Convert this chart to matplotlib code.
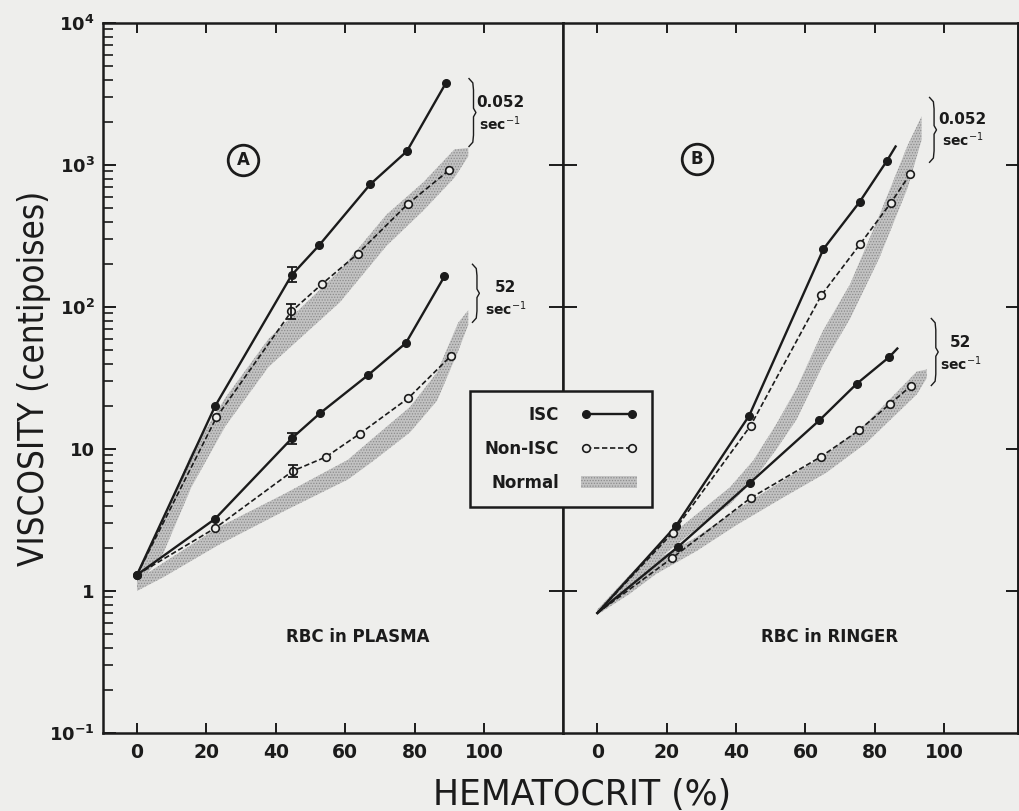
import numpy as np
import matplotlib
matplotlib.use("Agg")
import matplotlib.pyplot as plt
from matplotlib.lines import Line2D
from matplotlib.patches import Patch
from matplotlib.ticker import FixedLocator, NullFormatter, NullLocator

# ---------------- data ----------------
# Panel A : RBC in plasma
pl_isc_hi_x = [0, 22.5, 44.6, 52.5, 67.2, 77.8, 89.1]
pl_isc_hi_y = [1.3, 20, 168, 272, 730, 1250, 3800]
pl_non_hi_x = [0, 22.9, 44.5, 53.3, 63.7, 78.0, 90.0]
pl_non_hi_y = [1.3, 16.7, 93, 145, 238, 530, 920]
pl_isc_lo_x = [0, 22.5, 44.8, 52.8, 66.5, 77.5, 88.6]
pl_isc_lo_y = [1.3, 3.22, 12, 17.9, 33, 55.7, 164]
pl_non_lo_x = [0, 22.6, 44.9, 54.5, 64.2, 78.2, 90.4]
pl_non_lo_y = [1.3, 2.78, 7.0, 8.8, 12.8, 22.8, 45]

# error bars (x, low, high)
pl_err_x = [44.6, 44.5, 44.8, 44.9]
pl_err_lo = [150, 82, 10.8, 6.3]
pl_err_hi = [192, 105, 13.0, 7.7]

# normal bands, panel A
pl_band_hi_x = [0, 7.6, 15.7, 25.5, 37.9, 58.5, 71.9, 82.6, 91.5, 95.5]
pl_band_hi_lo = [1.07, 1.85, 5.4, 14.5, 37.8, 108, 269, 479, 813, 1150]
pl_band_hi_up = [1.35, 3.2, 9.4, 23, 59.6, 181, 447, 759, 1288, 1320]
pl_band_lo_x = [0, 7.6, 23.5, 42.2, 60.8, 68, 78.7, 86.5, 92.6, 95.5]
pl_band_lo_lo = [1.0, 1.25, 2.11, 3.63, 6.1, 8.2, 13.1, 21.9, 49, 75]
pl_band_lo_up = [1.2, 1.58, 2.81, 4.79, 8.4, 11.9, 19.8, 34.7, 77.6, 95]

# Panel B : RBC in Ringer
ri_isc_hi_x = [0, 22.6, 43.8, 65.2, 75.6, 83.5, 86.0]
ri_isc_hi_y = [0.7, 2.86, 17.2, 256, 548, 1070, 1350]
ri_non_hi_x = [0, 21.7, 44.2, 64.6, 75.8, 84.6, 90.3]
ri_non_hi_y = [0.7, 2.57, 14.6, 121, 278, 540, 870]
ri_isc_lo_x = [0, 23.3, 44.1, 64.0, 74.8, 84.2, 86.5]
ri_isc_lo_y = [0.7, 2.05, 5.8, 15.9, 28.8, 44.5, 51]
ri_non_lo_x = [0, 21.6, 44.2, 64.4, 75.4, 84.5, 90.5]
ri_non_lo_y = [0.7, 1.71, 4.52, 8.8, 13.5, 20.9, 27.9]

ri_band_hi_x = [0, 9.2, 19, 28.6, 38.2, 45, 51.7, 57.5, 65, 72.9, 81.4, 89.5, 93.5]
ri_band_hi_lo = [0.68, 1.07, 1.78, 2.75, 4.07, 6.03, 10.0, 16.2, 38.9, 83, 224, 692, 1500]
ri_band_hi_up = [0.74, 1.29, 2.24, 3.47, 5.37, 8.32, 15.1, 26.9, 67.6, 145, 447, 1380, 2200]
ri_band_lo_x = [0, 9.2, 17, 28.6, 40.2, 53.7, 66, 77.5, 92.1, 95]
ri_band_lo_lo = [0.68, 0.95, 1.32, 1.91, 2.92, 4.57, 6.8, 11.0, 24.2, 31.6]
ri_band_lo_up = [0.74, 1.20, 1.66, 2.40, 3.75, 6.03, 9.2, 15.1, 35.1, 36.3]

x_ticks = [0, 20, 40, 60, 80, 100]
y_ticks = [0.1, 1, 10, 100, 1000, 10000]
y_tick_labels = ["$\\mathbf{10^{-1}}$", "1", "10", "$\\mathbf{10^{2}}$",
                 "$\\mathbf{10^{3}}$", "$\\mathbf{10^{4}}$"]
divider_ticks = [1, 10, 100, 1000]
legend_labels = ["ISC", "Non-ISC", "Normal"]

# ---------------- style ----------------
BG = "#eeeeec"
INK = "#1b1b1b"
BAND = "#c2c2c2"
plt.rcParams["font.family"] = ["DejaVu Sans"]
plt.rcParams["hatch.linewidth"] = 0.6

W, H = 1019, 811
fig = plt.figure(figsize=(W / 100, H / 100), dpi=100, facecolor=BG)
axL = fig.add_axes([103 / W, 78 / H, 460 / W, 710 / H])
axR = fig.add_axes([563 / W, 78 / H, 455 / W, 710 / H])

for ax in (axL, axR):
    ax.set_facecolor(BG)
    ax.set_yscale("log")
    ax.set_ylim(0.1, 1e4)
    for s in ax.spines.values():
        s.set_linewidth(1.8)
        s.set_color(INK)
    ax.xaxis.set_major_locator(FixedLocator(x_ticks))
    ax.tick_params(axis="x", which="major", direction="in", top=True, bottom=True,
                   length=7, width=1.4, color=INK, labelsize=13.5, pad=7,
                   labelcolor=INK)
    ax.set_xticklabels([str(t) for t in x_ticks], fontweight="bold")

axL.set_xlim(-9.8, 122.8)
axR.set_xlim(-9.9, 121.3)

# y axis, left panel
axL.yaxis.set_major_locator(FixedLocator(y_ticks))
axL.yaxis.set_minor_locator(FixedLocator(
    [m * 10.0 ** e for e in range(-1, 4) for m in range(2, 10)]))
axL.yaxis.set_minor_formatter(NullFormatter())
axL.set_yticklabels(y_tick_labels, fontweight="bold")
axL.tick_params(axis="y", which="major", direction="in", left=True, right=False,
                length=9, width=1.4, color=INK, labelsize=13, pad=6, labelcolor=INK)
axL.tick_params(axis="y", which="minor", direction="in", left=True, right=False,
                length=7, width=1.2, color=INK)

# y axis, right panel: crossing ticks on the divider, inward ticks on the right
axR.yaxis.set_major_locator(FixedLocator(divider_ticks))
axR.yaxis.set_minor_locator(NullLocator())
axR.tick_params(axis="y", which="major", direction="inout", left=True, right=False,
                length=20, width=1.4, color=INK, labelleft=False)
sec = axR.secondary_yaxis("right")
sec.yaxis.set_major_locator(FixedLocator(divider_ticks))
sec.yaxis.set_minor_locator(NullLocator())
sec.tick_params(axis="y", direction="in", length=9, width=1.4, color=INK,
                labelright=False)
sec.spines["right"].set_linewidth(1.8)


def band(ax, x, lo, up):
    ax.fill_between(x, lo, up, facecolor=BAND, edgecolor="#8c8c8c", hatch="......",
                    linewidth=0, zorder=1)


def isc(ax, x, y, marks):
    ax.plot(x, y, "-", color=INK, lw=1.7, zorder=3, marker="o", ms=5.5,
            mfc=INK, mec=INK, markevery=marks)


def non(ax, x, y, marks):
    ax.plot(x, y, color=INK, lw=1.2, ls=(0, (3.2, 1.6)), zorder=4, marker="o",
            ms=5.5, mfc=BG, mec=INK, mew=1.2, markevery=marks)


band(axL, pl_band_hi_x, pl_band_hi_lo, pl_band_hi_up)
band(axL, pl_band_lo_x, pl_band_lo_lo, pl_band_lo_up)
non(axL, pl_non_hi_x, pl_non_hi_y, list(range(1, 7)))
non(axL, pl_non_lo_x, pl_non_lo_y, list(range(1, 7)))
isc(axL, pl_isc_hi_x, pl_isc_hi_y, list(range(0, 7)))
isc(axL, pl_isc_lo_x, pl_isc_lo_y, list(range(0, 7)))
ey = np.array([pl_err_lo, pl_err_hi])
mid = np.sqrt(ey[0] * ey[1])
axL.errorbar(pl_err_x, mid, yerr=[mid - ey[0], ey[1] - mid], fmt="none",
             ecolor=INK, elinewidth=1.3, capsize=3.5, capthick=1.3, zorder=5)

band(axR, ri_band_hi_x, ri_band_hi_lo, ri_band_hi_up)
band(axR, ri_band_lo_x, ri_band_lo_lo, ri_band_lo_up)
non(axR, ri_non_hi_x, ri_non_hi_y, list(range(1, 7)))
non(axR, ri_non_lo_x, ri_non_lo_y, list(range(1, 7)))
isc(axR, ri_isc_hi_x, ri_isc_hi_y, list(range(1, 6)))
isc(axR, ri_isc_lo_x, ri_isc_lo_y, list(range(1, 6)))


def brace(ax, x, top, bot, w=1.3):
    lt, lb = np.log10(top), np.log10(bot)
    lm = 0.5 * (lt + lb)
    xs = [x - w, x - 0.2, x, x, x + 0.7, x, x, x - 0.2, x - w]
    ls = [lt, lt - 0.03, lt - 0.08, lm + 0.03, lm, lm - 0.03, lb + 0.08, lb + 0.03, lb]
    ax.plot(xs, 10 ** np.array(ls), color=INK, lw=1.0, zorder=5)


def rate(ax, x, ytop, ybot, txt):
    ax.text(x, ytop, txt, ha="center", va="center", fontsize=11,
            fontweight="bold", color=INK)
    ax.text(x, ybot, "sec$^{-1}$", ha="center", va="center", fontsize=10,
            fontweight="bold", color=INK)


brace(axL, 97.0, 4060, 1350)
rate(axL, 104.7, 2750, 1950, "0.052")
brace(axL, 98.0, 200, 78)
rate(axL, 106.3, 138, 98, "52")
brace(axR, 97.1, 2990, 1045)
rate(axR, 105.3, 2100, 1500, "0.052")
brace(axR, 97.6, 83, 28)
rate(axR, 104.8, 56, 40, "52")

for ax, lx, ly, letter in ((axL, 30.6, 1085, "A"), (axR, 28.8, 1095, "B")):
    ax.plot([lx], [ly], "o", ms=22, mfc="none", mec=INK, mew=2.0, zorder=5)
    ax.text(lx, ly, letter, ha="center", va="center", fontsize=12,
            fontweight="bold", color=INK, zorder=6)

axL.text(63.7, 0.474, "RBC in PLASMA", ha="center", va="center", fontsize=12,
         fontweight="bold", color=INK)
axR.text(67.0, 0.474, "RBC in RINGER", ha="center", va="center", fontsize=12,
         fontweight="bold", color=INK)

fig.text(34 / W, 1 - 378 / H, "VISCOSITY (centipoises)", rotation=90,
         ha="center", va="center", fontsize=25, fontstretch="condensed",
         color=INK)
fig.text(582 / W, 1 - 795 / H, "HEMATOCRIT (%)", ha="center", va="center",
         fontsize=25, color=INK)

handles = [
    Line2D([0], [0], color=INK, lw=1.7, marker="o", ms=5.5, mfc=INK, mec=INK),
    Line2D([0], [0], color=INK, lw=1.2, ls=(0, (3.2, 1.6)), marker="o", ms=5.5,
           mfc=BG, mec=INK, mew=1.2),
    Patch(facecolor=BAND, edgecolor="#8c8c8c", hatch="......", linewidth=0),
]
leg = fig.legend(handles, legend_labels, loc="center",
                 bbox_to_anchor=(561 / W, 1 - 449 / H), markerfirst=False,
                 numpoints=2, fontsize=12, handlelength=3.4, handleheight=0.8,
                 labelspacing=0.95, borderpad=0.9, handletextpad=1.3,
                 fancybox=False, framealpha=1, facecolor=BG, edgecolor=INK)
leg.get_frame().set_linewidth(1.8)
for t in leg.get_texts():
    t.set_fontweight("bold")
    t.set_color(INK)

fig.savefig("out.png", dpi=100, facecolor=BG)
